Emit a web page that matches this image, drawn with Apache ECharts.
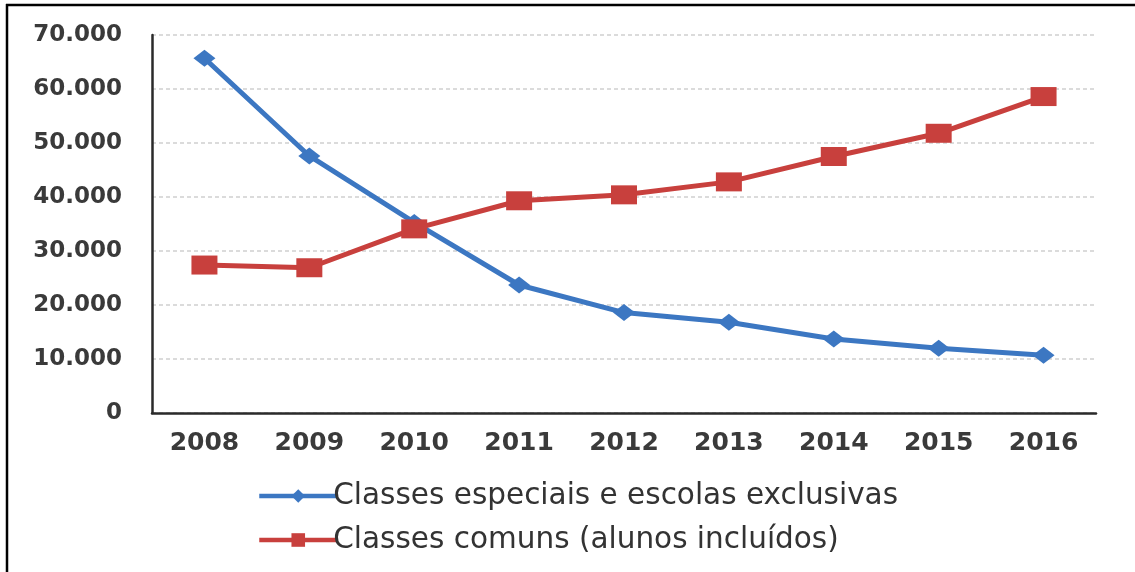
<!DOCTYPE html>
<html>
<head>
<meta charset="utf-8">
<script src="https://cdn.jsdelivr.net/npm/echarts@6/dist/echarts.min.js"></script>
<style>
html,body{margin:0;padding:0;background:#fff;}
#c{width:1135px;height:572px;}
</style>
</head>
<body>
<div id="c"></div>
<script>
const years = ['2008','2009','2010','2011','2012','2013','2014','2015','2016'];
const especiais = [65700, 47600, 35300, 23700, 18600, 16800, 13700, 12000, 10700];
const comuns = [27400, 26900, 34100, 39300, 40400, 42800, 47500, 51800, 58600];
const seriesNames = ['Classes especiais e escolas exclusivas', 'Classes comuns (alunos incluídos)'];
const yTicks = { min: 0, max: 70000, interval: 10000 };

const fmt = v => v === 0 ? '0' : (v / 1000).toFixed(0) + '.000';

const legendBase = {
  orient: 'vertical',
  left: 252,
  itemWidth: 78,
  itemHeight: 17,
  lineStyle: { width: 4.5 },
  textStyle: { fontFamily: 'DejaVu Sans', fontSize: 29.5, color: '#333', padding: [0, 0, 0, -9] }
};

const chart = echarts.init(document.getElementById('c'), null, { renderer: 'canvas' });
chart.setOption({
  backgroundColor: '#fff',
  animation: false,
  grid: { left: 152, right: 39, top: 35, bottom: 159, containLabel: false },
  legend: [
    Object.assign({}, legendBase, { top: 476, data: [seriesNames[0]] }),
    Object.assign({}, legendBase, { top: 520, data: [seriesNames[1]] })
  ],
  xAxis: {
    type: 'category',
    data: years,
    boundaryGap: true,
    axisLine: { show: true, lineStyle: { color: '#2a2a2a', width: 2.5 } },
    axisTick: { show: false },
    axisLabel: { fontFamily: 'DejaVu Sans', fontWeight: 'bold', fontSize: 25, color: '#3a3a3a', margin: 18 },
    splitLine: { show: false }
  },
  yAxis: {
    type: 'value',
    min: yTicks.min, max: yTicks.max, interval: yTicks.interval,
    axisLine: { show: true, lineStyle: { color: '#2a2a2a', width: 2.5 } },
    axisTick: { show: false },
    axisLabel: { fontFamily: 'DejaVu Sans', fontWeight: 'bold', fontSize: 23, color: '#3a3a3a', margin: 30, formatter: fmt },
    splitLine: { show: true, lineStyle: { color: '#cfcfcf', width: 1.5, type: [4, 3] } }
  },
  series: [
    {
      name: seriesNames[0], type: 'line', data: especiais,
      symbol: 'diamond', symbolSize: [22, 17],
      lineStyle: { color: '#3c77c2', width: 5 },
      itemStyle: { color: '#3c77c2' },
      z: 2
    },
    {
      name: seriesNames[1], type: 'line', data: comuns,
      symbol: 'rect', symbolSize: [26, 19],
      lineStyle: { color: '#c8403d', width: 5 },
      itemStyle: { color: '#c8403d' },
      z: 3
    }
  ],
  graphic: [
    { type: 'line', shape: { x1: 6, y1: 5, x2: 1135, y2: 5 }, style: { stroke: '#000', lineWidth: 2.5 } },
    { type: 'line', shape: { x1: 7, y1: 4, x2: 7, y2: 572 }, style: { stroke: '#000', lineWidth: 2.5 } }
  ]
});
</script>
</body>
</html>
